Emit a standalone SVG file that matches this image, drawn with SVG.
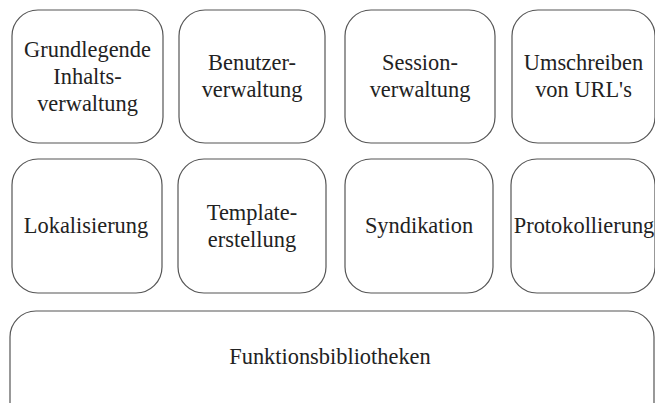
<svg xmlns="http://www.w3.org/2000/svg" width="655" height="403" viewBox="0 0 655 403">
<style>
rect.box{fill:#fff;stroke:#555;stroke-width:1.2}
text{font-family:"Liberation Serif","Times New Roman",serif;font-size:22.4px;fill:#222;text-anchor:middle}
</style>
<rect x="0" y="0" width="655" height="403" fill="#fff"/>
<g id="n1"><rect class="box" x="12" y="10" width="151" height="133" rx="26"/><text x="87.5" y="56.5">Grundlegende</text><text x="87.5" y="83.5">Inhalts-</text><text x="87.5" y="110.5">verwaltung</text></g>
<g id="n2"><rect class="box" x="179" y="10" width="146" height="133" rx="26"/><text x="252" y="70">Benutzer-</text><text x="252" y="97">verwaltung</text></g>
<g id="n3"><rect class="box" x="345" y="10" width="150" height="133" rx="26"/><text x="420" y="70">Session-</text><text x="420" y="97">verwaltung</text></g>
<g id="n4"><rect class="box" x="512" y="10" width="143" height="133" rx="26"/><text x="583.5" y="70">Umschreiben</text><text x="583.5" y="97">von URL's</text></g>
<g id="n5"><rect class="box" x="12" y="159" width="150" height="134" rx="26"/><text x="86" y="233">Lokalisierung</text></g>
<g id="n6"><rect class="box" x="178" y="159" width="148" height="134" rx="26"/><text x="252" y="219.5">Template-</text><text x="252" y="246.5">erstellung</text></g>
<g id="n7"><rect class="box" x="345" y="159" width="148" height="134" rx="26"/><text x="419" y="233">Syndikation</text></g>
<g id="n8"><rect class="box" x="511" y="159" width="144" height="134" rx="26"/><text x="584" y="233">Protokollierung</text></g>
<g id="n9"><rect class="box" x="10" y="311" width="644" height="120" rx="26"/><text x="330" y="364">Funktionsbibliotheken</text></g>
<g id="connectors"/>
</svg>
